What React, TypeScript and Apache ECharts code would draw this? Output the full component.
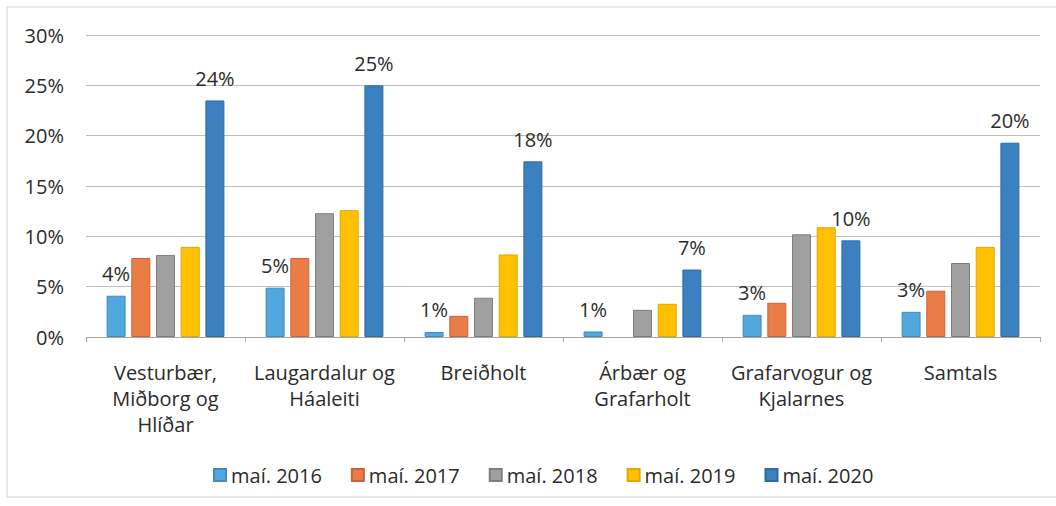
import React, { useEffect, useRef } from "react";
import * as echarts from "echarts";

const categories = [
  "Vesturbær,\nMiðborg og\nHlíðar",
  "Laugardalur og\nHáaleiti",
  "Breiðholt",
  "Árbær og\nGrafarholt",
  "Grafarvogur og\nKjalarnes",
  "Samtals",
];
const seriesNames = ["maí. 2016", "maí. 2017", "maí. 2018", "maí. 2019", "maí. 2020"];
const may2016 = [4.1, 4.9, 0.5, 0.55, 2.2, 2.5];
const may2017 = [7.85, 7.85, 2.1, 0, 3.4, 4.6];
const may2018 = [8.15, 12.3, 3.9, 2.7, 10.2, 7.35];
const may2019 = [8.95, 12.6, 8.2, 3.3, 10.9, 8.95];
const may2020 = [23.5, 25.0, 17.45, 6.7, 9.6, 19.3];
const labels2016 = ["4%", "5%", "1%", "1%", "3%", "3%"];
const labels2020 = ["24%", "25%", "18%", "7%", "10%", "20%"];
const yTicks = [0, 5, 10, 15, 20, 25, 30];

const colors = ["#52A7DE", "#EA7D45", "#A0A0A0", "#FFC000", "#3B80BF"];
const borders = ["#3F8CC4", "#C9643A", "#7E7E7E", "#E0A800", "#2E6AA3"];

const FONT = "Open Sans";
const TEXT = "#2b2b2b";

export default function App() {
  const ref = useRef<HTMLDivElement>(null);
  useEffect(() => {
    document.body.style.margin = "0";
    const chart = echarts.init(ref.current!, null, { renderer: "svg" });
    const allData = [may2016, may2017, may2018, may2019, may2020];
    const labelSets: (string[] | null)[] = [labels2016, null, null, null, labels2020];
    chart.setOption({
      animation: false,
      backgroundColor: "#ffffff",
      textStyle: { fontFamily: FONT },
      graphic: [
        {
          type: "rect",
          shape: { x: 7, y: 7, width: 1070, height: 490 },
          style: { fill: "none", stroke: "#d2d2d2", lineWidth: 1 },
          silent: true,
          z: -1,
        },
      ],
      legend: {
        data: seriesNames,
        bottom: 16,
        left: 208,
        icon: "rect",
        itemWidth: 12,
        itemHeight: 12,
        itemGap: 29,
        textStyle: { fontFamily: FONT, fontSize: 20, color: TEXT },
      },
      grid: { left: 86, right: 16, top: 35, bottom: 169, containLabel: false },
      xAxis: {
        type: "category",
        data: categories,
        axisLine: { lineStyle: { color: "#A6A6A6", width: 1 } },
        axisTick: { show: true, length: 5, lineStyle: { color: "#A6A6A6" } },
        axisLabel: {
          fontFamily: FONT,
          fontSize: 20,
          color: TEXT,
          lineHeight: 26,
          margin: 22,
          interval: 0,
        },
      },
      yAxis: {
        type: "value",
        min: yTicks[0],
        max: yTicks[yTicks.length - 1],
        interval: 5,
        axisLine: { show: false },
        axisTick: { show: false },
        splitLine: { lineStyle: { color: "#BFBFBF", width: 1 } },
        axisLabel: {
          fontFamily: FONT,
          fontSize: 20,
          color: TEXT,
          margin: 22,
          formatter: (v: number) => `${v}%`,
        },
      },
      series: seriesNames.map((name, i) => ({
        name,
        type: "bar",
        data: allData[i].map((v) =>
          v === 0 ? { value: v, itemStyle: { borderWidth: 0 } } : v
        ),
        barWidth: 19,
        barGap: "30%",
        itemStyle: { color: colors[i], borderColor: borders[i], borderWidth: 1 },
        label: labelSets[i]
          ? {
              show: true,
              position: "top",
              distance: 12,
              fontFamily: FONT,
              fontSize: 20,
              color: TEXT,
              formatter: (p: any) => (labelSets[i] as string[])[p.dataIndex],
            }
          : { show: false },
      })),
    });
    return () => chart.dispose();
  }, []);
  return (
    <div
      ref={ref}
      style={{ position: "fixed", left: 0, top: 0, width: 1056, height: 506 }}
    />
  );
}
